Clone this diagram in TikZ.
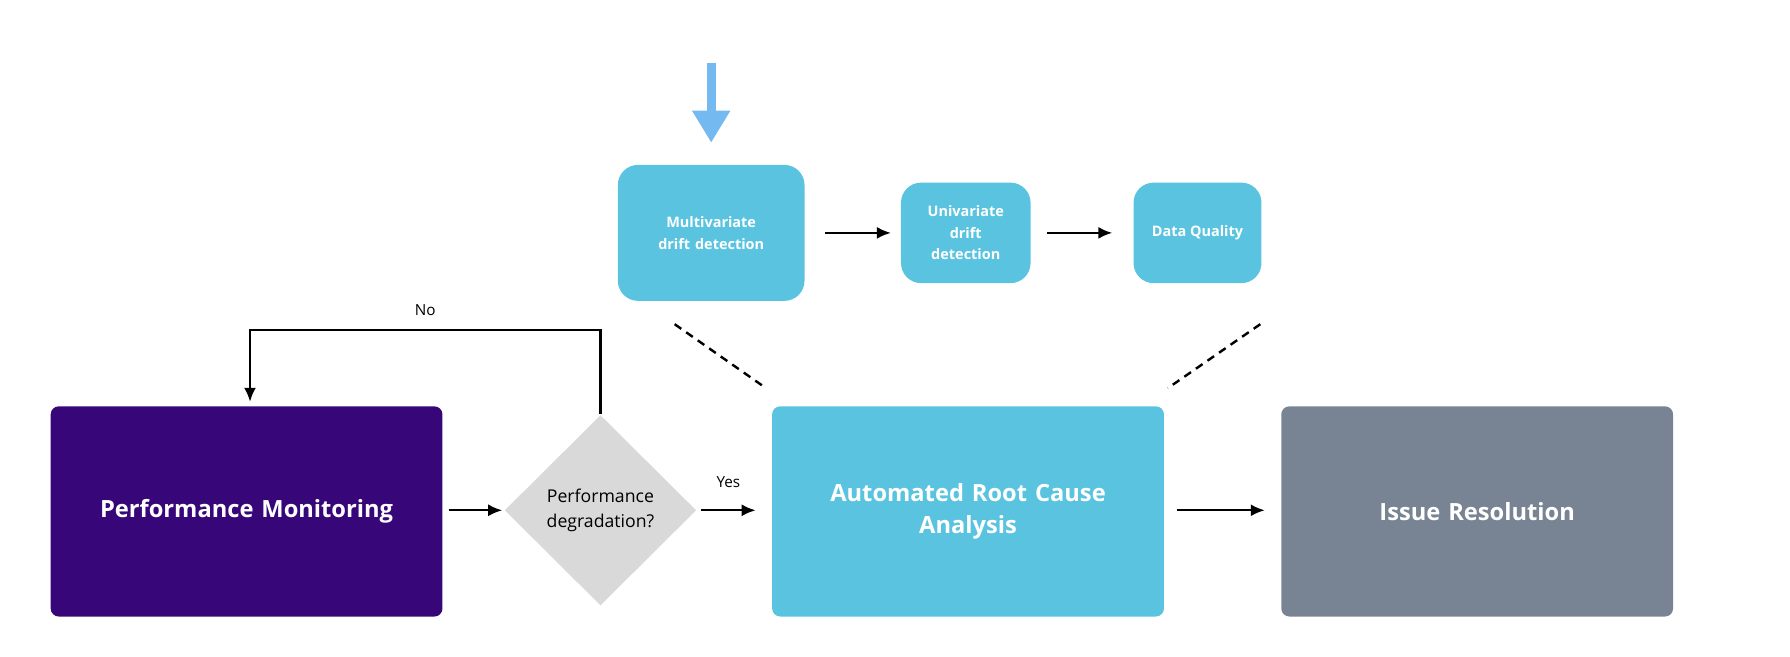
\documentclass[tikz,border=0pt]{standalone}
\usepackage{fontspec}
\setmainfont{Open Sans}
\usetikzlibrary{arrows.meta}
\usetikzlibrary{shapes.geometric}
\usetikzlibrary{positioning}
\definecolor{purpleBox}{HTML}{37077A}
\definecolor{cyanBox}{HTML}{5AC4E0}
\definecolor{greyBox}{HTML}{788493}
\definecolor{greyDiam}{HTML}{D9D9D9}
\definecolor{blueArr}{HTML}{74B9F0}
\tikzset{
  bigbox/.style={rectangle, rounded corners=2pt, minimum width=3.43cm, minimum height=1.84cm,
    text=white, font=\fontsize{5.9}{8}\selectfont\bfseries, align=center, text width=2.9cm},
  smallbox/.style={rectangle, rounded corners=5pt, fill=cyanBox, text=white,
    font=\fontsize{3.6}{5.4}\selectfont\bfseries, align=center},
  flow/.style={-{Latex[length=3.5pt,width=3pt]}, line width=0.6pt},
}
\begin{document}
\begin{tikzpicture}[x=0.01cm, y=0.01cm]
  \useasboundingbox (0,0) rectangle (1568,575);

  % Main row
  \node[bigbox, fill=purpleBox] (monitor) at (216,127) {Performance Monitoring};
  \node[diamond, fill=greyDiam, minimum width=1.68cm, minimum height=1.67cm, inner sep=0pt,
    font=\fontsize{4.4}{6.2}\selectfont, align=center] (degrade) at (526,128) {Performance\\degradation?};
  \node[bigbox, fill=cyanBox] (rca) at (848,127) {Automated Root Cause\\Analysis};
  \node[bigbox, fill=greyBox] (resolve) at (1294,127) {Issue Resolution};

  % Root cause steps
  \node[smallbox, minimum width=1.53cm, minimum height=1.19cm, text width=1.4cm] (multi) at (623,371) {Multivariate drift detection};
  \node[smallbox, minimum width=1.12cm, minimum height=0.88cm, text width=0.9cm] (uni) at (846,371) {Univariate\\drift\\detection};
  \node[smallbox, minimum width=1.12cm, minimum height=0.88cm] (quality) at (1049,371) {Data Quality};

  % Connectors
  \coordinate (monR) at (393,128);
  \coordinate (degL) at (440,128);
  \draw[flow] (monR) -- (degL);
  \draw[flow] (614,128) -- (662,128) node[midway, above=2pt, font=\fontsize{3.8}{5}\selectfont] {Yes};
  \draw[flow] (1031,128) -- (1108,128);
  \draw[flow] (multi.east) ++(17,0) coordinate (mo) -- ++(58,0);
  \draw[flow] (uni.east) ++(14,0) coordinate (uo) -- ++(57,0);
  \draw[flow] (degrade.north) -- (526,286) -| node[pos=0.25, above, font=\fontsize{3.8}{5}\selectfont] {No} (219,223);
  \coordinate (inTop) at (623,520);
  \coordinate (inBot) at (623,450);
  \draw[blueArr, line width=2.2pt, -{Triangle[length=8pt,width=9pt]}] (inTop) -- (inBot);

  % Zoom lines
  \draw[dashed, dash pattern=on 2pt off 1.5pt, line width=0.6pt] (591,291) -- (671,235);
  \draw[dashed, dash pattern=on 2pt off 1.5pt, line width=0.6pt] (1104,291) -- (1023,235);
\end{tikzpicture}
\end{document}
